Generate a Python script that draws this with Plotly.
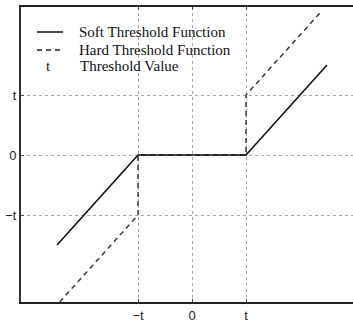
import plotly.graph_objects as go

# Data (threshold t = 1)
soft_x = [-2.5, -1, 1, 2.5]
soft_y = [-1.5, 0, 0, 1.5]
hard_x = [-2.45, -1, -1, 1, 1, 2.4]
hard_y = [-2.45, -1, 0, 0, 1, 2.4]
tick_vals = [-1, 0, 1]
tick_text = ["\u2212t", "0", "t"]
legend_labels = ["Soft Threshold Function", "Hard Threshold Function", "Threshold Value"]

W, H = 353, 323
ml, mr, mt, mb = 21, 0, 7, 21
pw, ph = W - ml - mr, H - mt - mb

def px(x):
    return (x - ml) / pw

def py(y):
    return (H - mb - y) / ph

fig = go.Figure()
fig.add_trace(go.Scatter(x=hard_x, y=hard_y, mode="lines",
                         line=dict(color="#3a3a3a", width=1.5, dash="5px,4px"),
                         showlegend=False, hoverinfo="skip"))
fig.add_trace(go.Scatter(x=soft_x, y=soft_y, mode="lines",
                         line=dict(color="#111111", width=1.6),
                         showlegend=False, hoverinfo="skip"))

axis_font = dict(family="Liberation Sans, Arial, sans-serif", size=13, color="#222")

fig.update_xaxes(range=[-3.167, 2.981], tickvals=tick_vals, ticktext=tick_text,
                 showgrid=True, gridcolor="#a8a8a8", griddash="dot", gridwidth=1,
                 zeroline=False, showline=True, linecolor="#222", linewidth=2,
                 mirror="ticks", ticks="inside", ticklen=3, tickcolor="#444",
                 tickfont=axis_font, fixedrange=True, automargin=False)
fig.update_yaxes(range=[-2.45, 2.467], tickvals=tick_vals, ticktext=tick_text,
                 showgrid=True, gridcolor="#a8a8a8", griddash="dot", gridwidth=1,
                 zeroline=False, showline=True, linecolor="#333", linewidth=2,
                 ticks="inside", ticklen=3, tickcolor="#444",
                 tickfont=axis_font, fixedrange=True, automargin=False)

# Legend drawn inside the plot (upper left)
leg_font = dict(family="Liberation Serif, Times New Roman, serif", size=15, color="#111")
rows_y = [32, 50, 66]
fig.add_shape(type="line", xref="paper", yref="paper",
              x0=px(37), x1=px(63), y0=py(rows_y[0]), y1=py(rows_y[0]),
              line=dict(color="#111", width=1.5))
fig.add_shape(type="line", xref="paper", yref="paper",
              x0=px(37), x1=px(61), y0=py(rows_y[1]), y1=py(rows_y[1]),
              line=dict(color="#222", width=1.5, dash="5px,4px"))
fig.add_annotation(xref="paper", yref="paper", x=px(48), y=py(rows_y[2]),
                   text="t", showarrow=False, font=leg_font,
                   xanchor="center", yanchor="middle")
for lab, yy, xx in zip(legend_labels, rows_y, [77, 77, 78]):
    fig.add_annotation(xref="paper", yref="paper", x=px(xx), y=py(yy),
                       text=lab, showarrow=False, font=leg_font,
                       xanchor="left", yanchor="middle")

fig.update_layout(width=W, height=H, margin=dict(l=ml, r=mr, t=mt, b=mb, autoexpand=False),
                  paper_bgcolor="white", plot_bgcolor="white", showlegend=False)

fig.write_html("out.html", config={"displayModeBar": False},
               post_script="document.body.style.margin='0';document.body.style.overflow='hidden';")
